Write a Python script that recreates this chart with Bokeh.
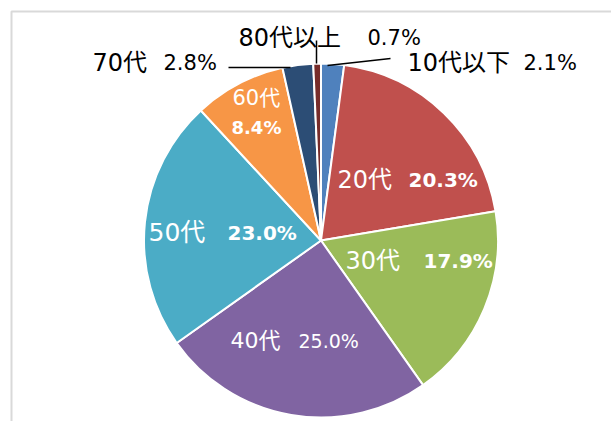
import math
from bokeh.plotting import figure
from bokeh.models import Range1d, ColumnDataSource
from bokeh.core.properties import value
from bokeh.embed import file_html
from bokeh.resources import INLINE

# ---- data ----
categories = ["10代以下", "20代", "30代", "40代", "50代", "60代", "70代", "80代以上"]
shares = [2.1, 20.3, 17.9, 25.0, 23.0, 8.4, 2.8, 0.7]
pct_labels = ["2.1%", "20.3%", "17.9%", "25.0%", "23.0%", "8.4%", "2.8%", "0.7%"]
colors = ["#4F81BD", "#C0504D", "#9BBB59", "#8064A2", "#4BACC6", "#F79646", "#2C4D75", "#772C2A"]

# ---- layout (image pixel coordinates, y downward) ----
W, H = 611, 421
CX, CY, R = 320.5, 240.0, 177.0
FONT = "DejaVu Sans, Noto Sans CJK JP"
# per label: cat x, pct x, cat y, pct y, colour, pct bold, cat size, pct size
label_layout = [
    (407, 523, 62, 62, "#000000", False, 24, 21),
    (337, 408, 179, 179, "#FFFFFF", True, 24, 20),
    (345, 423, 260, 260, "#FFFFFF", True, 24, 20),
    (230, 298, 340, 340, "#FFFFFF", False, 22, 19),
    (148, 227, 232, 232, "#FFFFFF", True, 25, 20),
    (232, 231, 97, 127, "#FFFFFF", True, 21, 18),
    (92, 163, 62, 62, "#000000", False, 24, 21),
    (238, 367, 37, 37, "#000000", False, 24, 21),
]
leaders = [  # (x0, y0, x1, y1)
    (327, 65, 390, 58),
    (228, 67, 290, 67),
    (316, 40, 316, 63),
]


def fy(y):
    return H - y


p = figure(width=W, height=H, x_range=Range1d(0, W), y_range=Range1d(0, H),
           output_backend="svg", toolbar_location=None,
           x_axis_location=None, y_axis_location=None, min_border=0)
p.grid.visible = False
p.outline_line_color = None
p.background_fill_color = "white"
p.border_fill_color = "white"

# chart-area border (left and top edges visible)
p.line(x=[11, 11, W + 5], y=[fy(H + 5), fy(11), fy(11)], line_color="#D9D9D9", line_width=2)

total = sum(shares)
starts, ends = [], []
acc = 0.0
for s in shares:
    starts.append(math.pi / 2 - 2 * math.pi * acc / total)
    acc += s
    ends.append(math.pi / 2 - 2 * math.pi * acc / total)

src = ColumnDataSource(dict(start=starts, end=ends, color=colors, cat=categories))
p.wedge(x=CX, y=fy(CY), radius=R, start_angle="start", end_angle="end",
        direction="clock", fill_color="color", line_color="white", line_width=2, source=src)

# leader lines
for x0, y0, x1, y1 in leaders:
    p.line(x=[x0, x1], y=[fy(y0), fy(y1)], line_color="#000000", line_width=1.5)

# labels
for cat, pct, (cx, px, cy, py, col, bold, cs, ps) in zip(categories, pct_labels, label_layout):
    p.text(x=[cx], y=[fy(cy)], text=[cat], text_color=col,
           text_font=value(FONT), text_font_size=value(f"{cs}px"),
           text_align="left", text_baseline="middle")
    p.text(x=[px], y=[fy(py)], text=[pct], text_color=col,
           text_font=value(FONT), text_font_size=value(f"{ps}px"),
           text_font_style="bold" if bold else "normal",
           text_align="left", text_baseline="middle")

open("out.html", "w").write(file_html(p, INLINE))
